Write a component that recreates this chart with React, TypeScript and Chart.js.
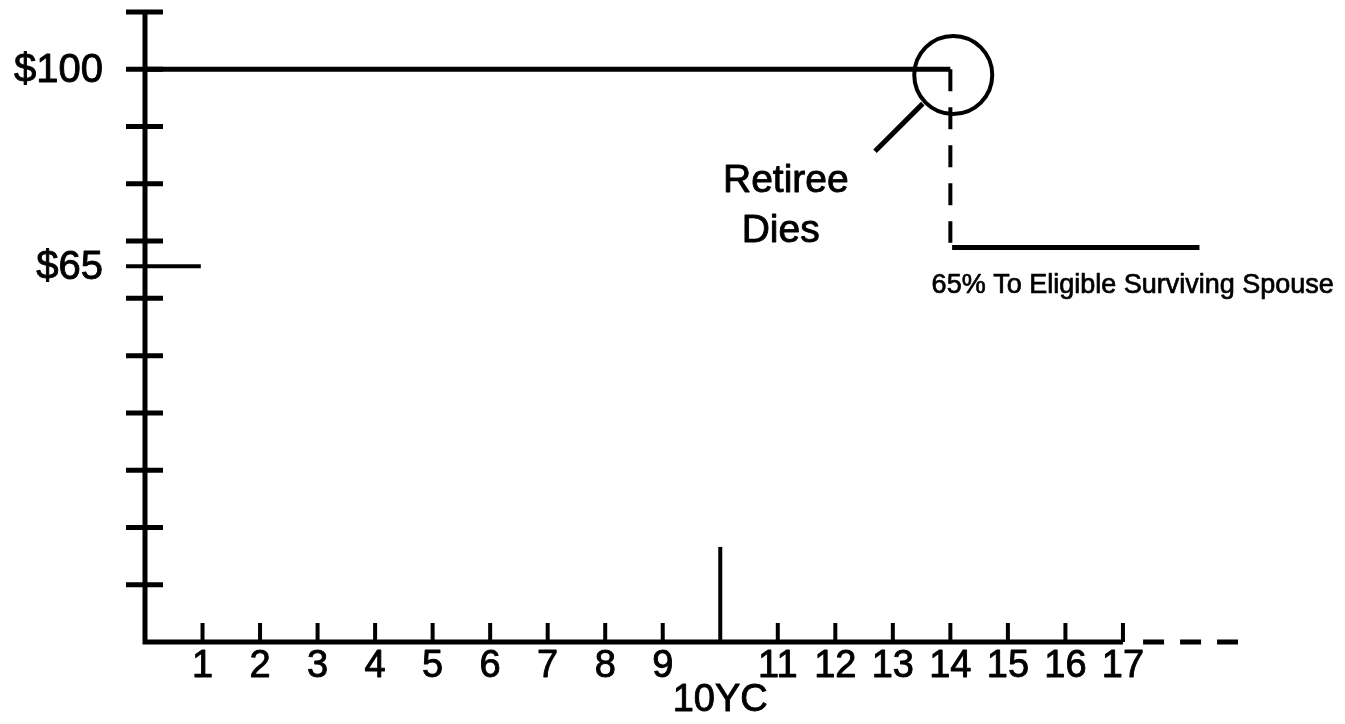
import React, { useEffect, useRef } from 'react';
import { Chart, registerables } from 'chart.js';

Chart.register(...registerables);

const FONT = '"Liberation Sans", Arial, Helvetica, sans-serif';

// ---- Data ----
const years = [1, 2, 3, 4, 5, 6, 7, 8, 9, 10, 11, 12, 13, 14, 15, 16, 17];
const yearLabels: string[][] = [['1'], ['2'], ['3'], ['4'], ['5'], ['6'], ['7'], ['8'], ['9'], ['', '10YC'], ['11'], ['12'], ['13'], ['14'], ['15'], ['16'], ['17']];
const yGuideTicks = [10, 20, 30, 40, 50, 60, 70, 80, 90, 100, 110];
const yLabelValues = [65.6, 100];
const yLabelTexts = ['$65', '$100'];

const axisX = [0, 0, 17];
const axisY = [110, 0, 0];
const axisExtX = [17.35, 19];
const axisExtY = [0, 0];
const benefitX = [0, 14];
const benefitY = [100, 100];
const dropX = [14, 14];
const dropY = [100, 69.7];
const survivorX = [14.03, 18.33];
const survivorY = [68.9, 68.9];
const sixtyFiveX = [-0.33, 0.97];
const sixtyFiveY = [65.6, 65.6];
const tenYCX = [10, 10];
const tenYCY = [0, 16.6];
const deathX = [14.05];
const deathY = [99];
const pointerX = [12.69, 13.52];
const pointerY = [85.7, 94.0];

const noteTexts = ['Retiree', 'Dies', '65% To Eligible Surviving Spouse'];
const noteX = [11.14, 11.05, 17.17];
const noteY = [78.6, 69.8, 60.9];
const noteSize = [39, 39, 27];

const pts = (xs: number[], ys: number[]) => xs.map((x, i) => ({ x, y: ys[i] }));

const lineDs = (data: { x: number; y: number }[], width: number, dash: number[] = []) => ({
  data,
  showLine: true,
  borderColor: '#000',
  borderWidth: width,
  borderDash: dash,
  borderCapStyle: 'butt' as const,
  borderJoinStyle: 'miter' as const,
  pointRadius: 0,
  pointHoverRadius: 0,
  fill: false,
  tension: 0,
  clip: false as const,
});

function heavyText(ctx: CanvasRenderingContext2D, t: string, x: number, y: number, stroke: number) {
  ctx.fillText(t, x, y);
  ctx.lineWidth = stroke;
  ctx.strokeText(t, x, y);
}

const decorPlugin = {
  id: 'decor',
  afterDraw(chart: any) {
    const { ctx, scales } = chart;
    const xs = scales.x;
    const ys = scales.y;
    const x0 = xs.getPixelForValue(0);
    const y0 = ys.getPixelForValue(0);
    ctx.save();
    ctx.strokeStyle = '#000';
    ctx.lineCap = 'butt';
    // y tick marks crossing the axis
    ctx.lineWidth = 5;
    yGuideTicks.forEach((v) => {
      const py = ys.getPixelForValue(v);
      ctx.beginPath();
      ctx.moveTo(x0 - 19, py);
      ctx.lineTo(x0 + 18, py);
      ctx.stroke();
    });
    // x tick marks pointing up
    ctx.lineWidth = 4;
    years.forEach((v) => {
      if (v === 10) return;
      const px = xs.getPixelForValue(v);
      ctx.beginPath();
      ctx.moveTo(px, y0);
      ctx.lineTo(px, y0 - 19);
      ctx.stroke();
    });
    ctx.fillStyle = '#000';
    ctx.lineJoin = 'round';
    // x labels
    ctx.font = `38px ${FONT}`;
    ctx.textAlign = 'center';
    ctx.textBaseline = 'middle';
    years.forEach((v, i) => {
      const px = xs.getPixelForValue(v);
      yearLabels[i].forEach((line, j) => {
        if (line) heavyText(ctx, line, px, y0 + 25 + j * 34, 0.9);
      });
    });
    // y labels
    ctx.font = `40px ${FONT}`;
    ctx.textAlign = 'right';
    ctx.textBaseline = 'middle';
    yLabelValues.forEach((v, i) => {
      heavyText(ctx, yLabelTexts[i], x0 - 42, ys.getPixelForValue(v) + 2, 0.9);
    });
    // annotations
    ctx.textAlign = 'center';
    ctx.textBaseline = 'alphabetic';
    noteTexts.forEach((t, i) => {
      ctx.font = `${noteSize[i]}px ${FONT}`;
      heavyText(ctx, t, xs.getPixelForValue(noteX[i]), ys.getPixelForValue(noteY[i]), noteSize[i] > 30 ? 0.9 : 0.7);
    });
    ctx.restore();
  },
};

export default function App() {
  const ref = useRef<HTMLCanvasElement | null>(null);

  useEffect(() => {
    if (!ref.current) return;
    const chart = new Chart(ref.current, {
      type: 'scatter',
      data: {
        datasets: [
          lineDs(pts(axisX, axisY), 5),
          lineDs(pts(axisExtX, axisExtY), 5, [21, 16]),
          lineDs(pts(benefitX, benefitY), 5),
          lineDs(pts(dropX, dropY), 4, [22, 16]),
          lineDs(pts(survivorX, survivorY), 5),
          lineDs(pts(sixtyFiveX, sixtyFiveY), 4),
          lineDs(pts(tenYCX, tenYCY), 4),
          lineDs(pts(pointerX, pointerY), 5),
          {
            data: pts(deathX, deathY),
            showLine: false,
            pointRadius: 39,
            pointHoverRadius: 39,
            pointBorderWidth: 4,
            pointBorderColor: '#000',
            pointBackgroundColor: 'rgba(0,0,0,0)',
            clip: false as const,
          },
        ] as any,
      },
      options: {
        animation: false,
        responsive: false,
        devicePixelRatio: 1,
        layout: { autoPadding: false, padding: { left: 0, top: 12, right: 107, bottom: 0 } },
        plugins: { legend: { display: false }, tooltip: { enabled: false } },
        events: [],
        scales: {
          x: {
            type: 'linear',
            min: 0,
            max: 19,
            grid: { display: false, drawTicks: false },
            border: { display: false },
            ticks: { display: false },
            afterFit: (scale: any) => {
              scale.height = 82;
              scale.paddingLeft = 0;
              scale.paddingRight = 0;
            },
          },
          y: {
            type: 'linear',
            min: 0,
            max: 110,
            grid: { display: false, drawTicks: false },
            border: { display: false },
            ticks: { display: false },
            afterFit: (scale: any) => {
              scale.width = 145;
              scale.paddingTop = 0;
              scale.paddingBottom = 0;
            },
          },
        },
      } as any,
      plugins: [decorPlugin],
    });
    return () => chart.destroy();
  }, []);

  return (
    <div style={{ position: 'fixed', left: 0, top: 0, width: 1345, height: 724, background: '#fff' }}>
      <canvas ref={ref} width={1345} height={724} style={{ display: 'block', width: 1345, height: 724 }} />
    </div>
  );
}
